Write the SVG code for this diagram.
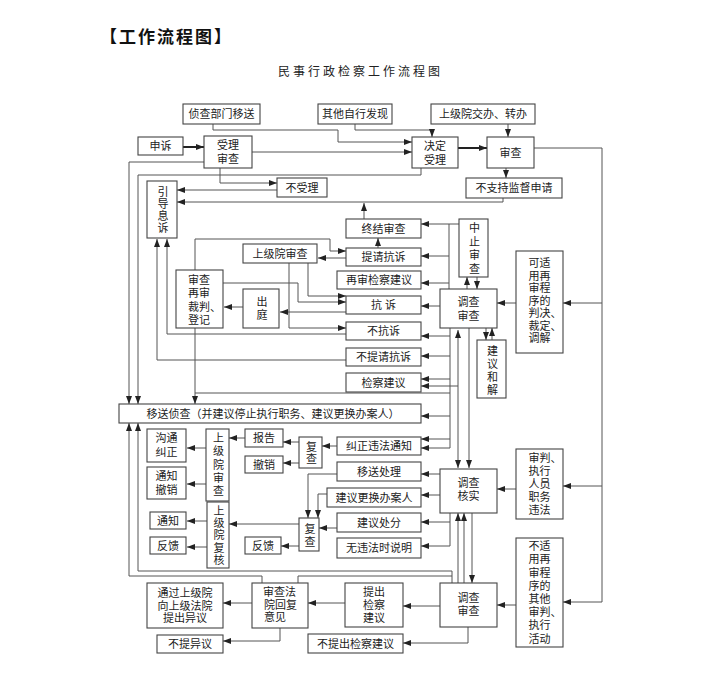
<svg xmlns="http://www.w3.org/2000/svg" width="720" height="690" viewBox="0 0 720 690">
<defs>
<marker id="a" viewBox="0 0 8 6" refX="8" refY="3" markerWidth="8" markerHeight="6" orient="auto-start-reverse" markerUnits="userSpaceOnUse"><path d="M0,0L8,3L0,6z" fill="#222"/></marker>
<style>
.b{fill:#fff;stroke:#444;stroke-width:1.1}
.t{font-family:"Liberation Sans","Noto Sans CJK SC",sans-serif;font-size:11px;fill:#222;text-anchor:middle;dominant-baseline:central}
.s{text-anchor:start}
.v{writing-mode:vertical-rl;text-orientation:upright}
.c path{fill:none;stroke:#555;stroke-width:1;marker-end:url(#a)}
.c path.n{marker-end:none}
.c path.k{stroke-width:2;stroke:#222}
.c path.d{marker-start:url(#a)}
</style>
</defs>
<rect width="720" height="690" fill="#fff"/>
<text x="100" y="35" font-family="'Noto Sans CJK SC',sans-serif" font-size="17" font-weight="bold" letter-spacing="2" dominant-baseline="central" fill="#111">【工作流程图】</text>
<text x="278" y="70" font-family="'Noto Sans CJK SC',sans-serif" font-size="12" letter-spacing="3" dominant-baseline="central" fill="#222">民事行政检察工作流程图</text>

<g class="c" id="connectors">
<path class="k" d="M183,147H204"/>
<path d="M213,124V130H338V142H412"/>
<path d="M355,124V130H432V137"/>
<path d="M252,152H412"/>
<path class="k" d="M458,148H487"/>
<path d="M508,124V137"/>
<path d="M506,168V178"/>
<path d="M220,168V183H277"/>
<path d="M277,190H177"/>
<path d="M503,198V202H177"/>
<path d="M364,219V203"/>
<path d="M204,162H129V404"/>
<path d="M421,168V175H138V404"/>
<path d="M534,148H602V602H563"/>
<path d="M602,303H563"/>
<path d="M602,486H563"/>
<path d="M516,303H497"/>
<path d="M516,489H497"/>
<path d="M516,605H497"/>
<path d="M459,224H421"/>
<path class="n" d="M449,224V289"/>
<path d="M449,256H421"/>
<path d="M449,283H421"/>
<path d="M440,306H421"/>
<path class="n" d="M450,328V448"/>
<path d="M450,336H421"/>
<path d="M450,356H421"/>
<path d="M450,379H421"/>
<path d="M450,416H421"/>
<path d="M450,439H421"/>
<path d="M450,448H421"/>
<path class="n" d="M450,393H195"/>
<path d="M195,328V404"/>
<path d="M458,386H421"/>
<path class="d" d="M458,330V468"/>
<path d="M469,328V468"/>
<path d="M467,289V277"/>
<path d="M477,277V289"/>
<path d="M486,328V340"/>
<path d="M492,340V328"/>
<path d="M378,248V238"/>
<path d="M346,258H318"/>
<path d="M195,270V239H330V251H346"/>
<path d="M223,283H298V302H346"/>
<path d="M308,263V296H346"/>
<path d="M289,263V328H346"/>
<path d="M346,312H280"/>
<path d="M243,307H224"/>
<path d="M346,334H167V239"/>
<path d="M346,360H157V239"/>
<path d="M337,446H322"/>
<path d="M299,442H283"/>
<path d="M299,463H283"/>
<path d="M245,438H229"/>
<path d="M206,448H187"/>
<path d="M206,484H187"/>
<path d="M440,474H421"/>
<path d="M440,495H421"/>
<path d="M337,474H308V518"/>
<path d="M327,494H318V518"/>
<path class="n" d="M450,513V546"/>
<path d="M450,522H421"/>
<path d="M450,546H421"/>
<path d="M337,528H319"/>
<path d="M299,524H229"/>
<path d="M299,546H281"/>
<path d="M207,521H187"/>
<path d="M207,547H187"/>
<path d="M458,583V513"/>
<path d="M464,583V513"/>
<path d="M472,513V583"/>
<path d="M452,583V571H138V423"/>
<path class="n" d="M298,583V576H452"/>
<path d="M262,583V576H129V423"/>
<path d="M440,606H403"/>
<path d="M345,603H308"/>
<path d="M252,603H223"/>
<path d="M280,628V641H223"/>
<path d="M468,627V643H403"/>
</g>

<g id="n_zhencha"><rect class="b" x="183" y="104" width="77" height="20"/><text class="t" x="221.5" y="114">侦查部门移送</text></g>
<g id="n_qita"><rect class="b" x="318" y="104" width="74" height="20"/><text class="t" x="355" y="114">其他自行发现</text></g>
<g id="n_jiaoban"><rect class="b" x="431" y="104" width="104" height="20"/><text class="t" x="483" y="114">上级院交办、转办</text></g>
<g id="n_shensu"><rect class="b" x="138" y="137" width="45" height="18"/><text class="t" x="160.5" y="146">申诉</text></g>
<g id="n_shouli"><rect class="b" x="204" y="136" width="48" height="32"/><text class="t"><tspan x="228" y="145">受理</tspan><tspan x="228" y="159">审查</tspan></text></g>
<g id="n_jueding"><rect class="b" x="412" y="137" width="46" height="31"/><text class="t"><tspan x="435" y="145.5">决定</tspan><tspan x="435" y="159.5">受理</tspan></text></g>
<g id="n_shencha"><rect class="b" x="487" y="137" width="47" height="31"/><text class="t" x="510.5" y="152.5">审查</text></g>
<g id="n_bushouli"><rect class="b" x="277" y="178" width="50" height="19"/><text class="t" x="302" y="187.5">不受理</text></g>
<g id="n_buzhichi"><rect class="b" x="466" y="178" width="96" height="20"/><text class="t" x="514" y="188">不支持监督申请</text></g>
<g id="n_yindao"><rect class="b" x="147" y="181" width="30" height="57"/><text class="t v" x="162" y="210.5" letter-spacing="1">引导息诉</text></g>
<g id="n_zhongjie"><rect class="b" x="346" y="219" width="75" height="19"/><text class="t" x="383.5" y="228.5">终结审查</text></g>
<g id="n_tiqing"><rect class="b" x="346" y="248" width="75" height="18"/><text class="t" x="383.5" y="257">提请抗诉</text></g>
<g id="n_zaishen"><rect class="b" x="337" y="271" width="84" height="18"/><text class="t" x="379" y="280">再审检察建议</text></g>
<g id="n_kangsu"><rect class="b" x="346" y="296" width="75" height="18"/><text class="t" x="383.5" y="305" xml:space="preserve">抗 诉</text></g>
<g id="n_bukangsu"><rect class="b" x="346" y="322" width="75" height="18"/><text class="t" x="383.5" y="331">不抗诉</text></g>
<g id="n_butiqing"><rect class="b" x="346" y="348" width="75" height="18"/><text class="t" x="383.5" y="357">不提请抗诉</text></g>
<g id="n_jianyi"><rect class="b" x="346" y="373" width="75" height="19"/><text class="t" x="383.5" y="382.5">检察建议</text></g>
<g id="n_zhongzhi"><rect class="b" x="459" y="219" width="29" height="58"/><text class="t v" x="473.5" y="249.5" letter-spacing="2.5">中止审查</text></g>
<g id="n_diaocha1"><rect class="b" x="440" y="289" width="57" height="39"/><text class="t"><tspan x="468.5" y="302">调查</tspan><tspan x="468.5" y="315.5">审查</tspan></text></g>
<g id="n_hejie"><rect class="b" x="477" y="340" width="29" height="58"/><text class="t v" x="491.5" y="371" letter-spacing="2">建议和解</text></g>
<g id="n_keshiyong"><rect class="b" x="516" y="251" width="47" height="102"/><text class="t s"><tspan x="528.5" y="263">可适</tspan><tspan x="528.5" y="275.5">用再</tspan><tspan x="528.5" y="288">审程</tspan><tspan x="528.5" y="300.5">序的</tspan><tspan x="528.5" y="313">判决、</tspan><tspan x="528.5" y="325.5">裁定、</tspan><tspan x="528.5" y="338">调解</tspan></text></g>
<g id="n_sjyshencha"><rect class="b" x="243" y="244" width="74" height="19"/><text class="t" x="280" y="253.5">上级院审查</text></g>
<g id="n_zaishenreg"><rect class="b" x="176" y="270" width="47" height="58"/><text class="t s"><tspan x="188" y="280">审查</tspan><tspan x="188" y="293">再审</tspan><tspan x="188" y="306.5">裁判、</tspan><tspan x="188" y="319.5">登记</tspan></text></g>
<g id="n_chuting"><rect class="b" x="243" y="289" width="36" height="39"/><text class="t v" x="261" y="309.5" letter-spacing="2">出庭</text></g>
<g id="n_yisong"><rect class="b" x="119" y="404" width="302" height="19"/><text class="t" x="273" y="413.5">移送侦查（并建议停止执行职务、建议更换办案人）</text></g>
<g id="n_goutong"><rect class="b" x="147" y="429" width="39" height="33"/><text class="t"><tspan x="166.5" y="438">沟通</tspan><tspan x="166.5" y="452">纠正</tspan></text></g>
<g id="n_tzcx"><rect class="b" x="147" y="467" width="39" height="32"/><text class="t"><tspan x="166.5" y="476">通知</tspan><tspan x="166.5" y="490">撤销</tspan></text></g>
<g id="n_sjysc2"><rect class="b" x="206" y="429" width="23" height="72"/><text class="t v" x="217.5" y="465.5" letter-spacing="2.2">上级院审查</text></g>
<g id="n_baogao"><rect class="b" x="245" y="429" width="38" height="18"/><text class="t" x="264" y="438">报告</text></g>
<g id="n_chexiao"><rect class="b" x="245" y="456" width="38" height="17"/><text class="t" x="264" y="464.5">撤销</text></g>
<g id="n_fucha1"><rect class="b" x="299" y="437" width="23" height="31"/><text class="t v" x="310.5" y="453.5" letter-spacing="1.5">复查</text></g>
<g id="n_jiuzheng"><rect class="b" x="337" y="437" width="84" height="18"/><text class="t" x="379" y="446">纠正违法通知</text></g>
<g id="n_yisongchuli"><rect class="b" x="337" y="462" width="84" height="19"/><text class="t" x="379" y="471.5">移送处理</text></g>
<g id="n_genghuan"><rect class="b" x="327" y="488" width="94" height="19"/><text class="t" x="374" y="497.5">建议更换办案人</text></g>
<g id="n_hesh"><rect class="b" x="440" y="469" width="57" height="44"/><text class="t"><tspan x="468.5" y="483">调查</tspan><tspan x="468.5" y="496">核实</tspan></text></g>
<g id="n_shenpan"><rect class="b" x="516" y="449" width="47" height="70"/><text class="t s"><tspan x="528.5" y="458">审判、</tspan><tspan x="528.5" y="471">执行</tspan><tspan x="528.5" y="484">人员</tspan><tspan x="528.5" y="497">职务</tspan><tspan x="528.5" y="510">违法</tspan></text></g>
<g id="n_chufen"><rect class="b" x="337" y="513" width="84" height="19"/><text class="t" x="379" y="522.5">建议处分</text></g>
<g id="n_wuweifa"><rect class="b" x="337" y="538" width="84" height="20"/><text class="t" x="379" y="548">无违法时说明</text></g>
<g id="n_fuhe"><rect class="b" x="207" y="502" width="22" height="66"/><text class="t v" x="218" y="536" letter-spacing="1.4">上级院复核</text></g>
<g id="n_tongzhi"><rect class="b" x="150" y="512" width="36" height="17"/><text class="t" x="168" y="520.5">通知</text></g>
<g id="n_fankui1"><rect class="b" x="150" y="537" width="36" height="17"/><text class="t" x="168" y="545.5">反馈</text></g>
<g id="n_fankui2"><rect class="b" x="245" y="537" width="36" height="17"/><text class="t" x="263" y="545.5">反馈</text></g>
<g id="n_fucha2"><rect class="b" x="299" y="518" width="20" height="33"/><text class="t v" x="309" y="536" letter-spacing="2">复查</text></g>
<g id="n_bushiyong"><rect class="b" x="516" y="538" width="47" height="109"/><text class="t s"><tspan x="528.5" y="546">不适</tspan><tspan x="528.5" y="559">用再</tspan><tspan x="528.5" y="572.5">审程</tspan><tspan x="528.5" y="585.5">序的</tspan><tspan x="528.5" y="599">其他</tspan><tspan x="528.5" y="612">审判、</tspan><tspan x="528.5" y="625">执行</tspan><tspan x="528.5" y="638.5">活动</tspan></text></g>
<g id="n_tongguo"><rect class="b" x="147" y="583" width="76" height="45"/><text class="t"><tspan x="185" y="593">通过上级院</tspan><tspan x="185" y="605.5">向上级法院</tspan><tspan x="185" y="618">提出异议</tspan></text></g>
<g id="n_fayuan"><rect class="b" x="252" y="583" width="56" height="45"/><text class="t s"><tspan x="263" y="592">审查法</tspan><tspan x="264" y="604.5">院回复</tspan><tspan x="264" y="617">意见</tspan></text></g>
<g id="n_tichu"><rect class="b" x="345" y="583" width="58" height="44"/><text class="t"><tspan x="374" y="592">提出</tspan><tspan x="374" y="605">检察</tspan><tspan x="374" y="618">建议</tspan></text></g>
<g id="n_diaocha2"><rect class="b" x="440" y="583" width="57" height="44"/><text class="t"><tspan x="468.5" y="598">调查</tspan><tspan x="468.5" y="611">审查</tspan></text></g>
<g id="n_buti"><rect class="b" x="157" y="635" width="66" height="18"/><text class="t" x="190" y="644">不提异议</text></g>
<g id="n_butichu"><rect class="b" x="308" y="634" width="95" height="19"/><text class="t" x="355.5" y="643.5">不提出检察建议</text></g>
</svg>
